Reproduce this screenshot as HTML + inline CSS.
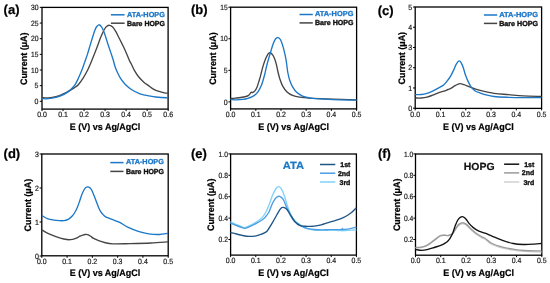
<!DOCTYPE html>
<html><head><meta charset="utf-8"><style>
html,body{margin:0;padding:0;background:#fff;width:550px;height:283px;overflow:hidden}
svg{display:block;will-change:transform;filter:blur(0.3px)}
text{font-family:"Liberation Sans",sans-serif;text-rendering:geometricPrecision}
</style></head><body>
<svg width="550" height="283" viewBox="0 0 550 283">
<rect width="550" height="283" fill="#fff"/>
<rect x="42.00" y="7.40" width="126.10" height="101.70" fill="none" stroke="#000" stroke-width="1.3"/>
<line x1="39.80" y1="101.30" x2="42.00" y2="101.30" stroke="#000" stroke-width="1"/>
<text x="38.50" y="104.00" font-size="7.60" text-anchor="end" font-weight="normal" fill="#151515" textLength="3.90" lengthAdjust="spacingAndGlyphs" stroke="#151515" stroke-width="0.18">0</text>
<line x1="39.80" y1="85.65" x2="42.00" y2="85.65" stroke="#000" stroke-width="1"/>
<text x="38.50" y="88.35" font-size="7.60" text-anchor="end" font-weight="normal" fill="#151515" textLength="3.90" lengthAdjust="spacingAndGlyphs" stroke="#151515" stroke-width="0.18">5</text>
<line x1="39.80" y1="70.00" x2="42.00" y2="70.00" stroke="#000" stroke-width="1"/>
<text x="38.50" y="72.70" font-size="7.60" text-anchor="end" font-weight="normal" fill="#151515" textLength="7.40" lengthAdjust="spacingAndGlyphs" stroke="#151515" stroke-width="0.18">10</text>
<line x1="39.80" y1="54.35" x2="42.00" y2="54.35" stroke="#000" stroke-width="1"/>
<text x="38.50" y="57.05" font-size="7.60" text-anchor="end" font-weight="normal" fill="#151515" textLength="7.40" lengthAdjust="spacingAndGlyphs" stroke="#151515" stroke-width="0.18">15</text>
<line x1="39.80" y1="38.70" x2="42.00" y2="38.70" stroke="#000" stroke-width="1"/>
<text x="38.50" y="41.40" font-size="7.60" text-anchor="end" font-weight="normal" fill="#151515" textLength="7.60" lengthAdjust="spacingAndGlyphs" stroke="#151515" stroke-width="0.18">20</text>
<line x1="39.80" y1="23.05" x2="42.00" y2="23.05" stroke="#000" stroke-width="1"/>
<text x="38.50" y="25.75" font-size="7.60" text-anchor="end" font-weight="normal" fill="#151515" textLength="7.60" lengthAdjust="spacingAndGlyphs" stroke="#151515" stroke-width="0.18">25</text>
<line x1="39.80" y1="7.40" x2="42.00" y2="7.40" stroke="#000" stroke-width="1"/>
<text x="38.50" y="10.10" font-size="7.60" text-anchor="end" font-weight="normal" fill="#151515" textLength="7.60" lengthAdjust="spacingAndGlyphs" stroke="#151515" stroke-width="0.18">30</text>
<line x1="42.00" y1="109.10" x2="42.00" y2="111.10" stroke="#000" stroke-width="1"/>
<text x="42.00" y="117.30" font-size="7.60" text-anchor="middle" font-weight="normal" fill="#151515" textLength="9.70" lengthAdjust="spacingAndGlyphs" stroke="#151515" stroke-width="0.18">0.0</text>
<line x1="63.03" y1="109.10" x2="63.03" y2="111.10" stroke="#000" stroke-width="1"/>
<text x="63.03" y="117.30" font-size="7.60" text-anchor="middle" font-weight="normal" fill="#151515" textLength="9.70" lengthAdjust="spacingAndGlyphs" stroke="#151515" stroke-width="0.18">0.1</text>
<line x1="84.06" y1="109.10" x2="84.06" y2="111.10" stroke="#000" stroke-width="1"/>
<text x="84.06" y="117.30" font-size="7.60" text-anchor="middle" font-weight="normal" fill="#151515" textLength="9.70" lengthAdjust="spacingAndGlyphs" stroke="#151515" stroke-width="0.18">0.2</text>
<line x1="105.09" y1="109.10" x2="105.09" y2="111.10" stroke="#000" stroke-width="1"/>
<text x="105.09" y="117.30" font-size="7.60" text-anchor="middle" font-weight="normal" fill="#151515" textLength="9.70" lengthAdjust="spacingAndGlyphs" stroke="#151515" stroke-width="0.18">0.3</text>
<line x1="126.12" y1="109.10" x2="126.12" y2="111.10" stroke="#000" stroke-width="1"/>
<text x="126.12" y="117.30" font-size="7.60" text-anchor="middle" font-weight="normal" fill="#151515" textLength="9.70" lengthAdjust="spacingAndGlyphs" stroke="#151515" stroke-width="0.18">0.4</text>
<line x1="147.15" y1="109.10" x2="147.15" y2="111.10" stroke="#000" stroke-width="1"/>
<text x="147.15" y="117.30" font-size="7.60" text-anchor="middle" font-weight="normal" fill="#151515" textLength="9.70" lengthAdjust="spacingAndGlyphs" stroke="#151515" stroke-width="0.18">0.5</text>
<line x1="168.18" y1="109.10" x2="168.18" y2="111.10" stroke="#000" stroke-width="1"/>
<text x="168.18" y="117.30" font-size="7.60" text-anchor="middle" font-weight="normal" fill="#151515" textLength="9.70" lengthAdjust="spacingAndGlyphs" stroke="#151515" stroke-width="0.18">0.6</text>
<text x="0" y="0" font-size="9.4" font-weight="bold" text-anchor="middle" fill="#000" stroke="#000" stroke-width="0.22" stroke-linejoin="round" textLength="52.6" lengthAdjust="spacingAndGlyphs" transform="translate(27.40,58.75) rotate(-90)">Current (μA)</text>
<text x="105.05" y="129.60" font-size="9.40" text-anchor="middle" font-weight="bold" fill="#000" textLength="70.60" lengthAdjust="spacingAndGlyphs" stroke="#000" stroke-width="0.22" stroke-linejoin="round">E (V) vs Ag/AgCl</text>
<rect x="230.60" y="7.20" width="126.00" height="101.70" fill="none" stroke="#000" stroke-width="1.3"/>
<line x1="228.40" y1="101.90" x2="230.60" y2="101.90" stroke="#000" stroke-width="1"/>
<text x="227.60" y="104.60" font-size="7.60" text-anchor="end" font-weight="normal" fill="#151515" textLength="3.90" lengthAdjust="spacingAndGlyphs" stroke="#151515" stroke-width="0.18">0</text>
<line x1="228.40" y1="70.33" x2="230.60" y2="70.33" stroke="#000" stroke-width="1"/>
<text x="227.60" y="73.03" font-size="7.60" text-anchor="end" font-weight="normal" fill="#151515" textLength="3.90" lengthAdjust="spacingAndGlyphs" stroke="#151515" stroke-width="0.18">5</text>
<line x1="228.40" y1="38.76" x2="230.60" y2="38.76" stroke="#000" stroke-width="1"/>
<text x="227.60" y="41.46" font-size="7.60" text-anchor="end" font-weight="normal" fill="#151515" textLength="7.40" lengthAdjust="spacingAndGlyphs" stroke="#151515" stroke-width="0.18">10</text>
<line x1="228.40" y1="7.19" x2="230.60" y2="7.19" stroke="#000" stroke-width="1"/>
<text x="227.60" y="9.89" font-size="7.60" text-anchor="end" font-weight="normal" fill="#151515" textLength="7.40" lengthAdjust="spacingAndGlyphs" stroke="#151515" stroke-width="0.18">15</text>
<line x1="230.60" y1="108.90" x2="230.60" y2="110.90" stroke="#000" stroke-width="1"/>
<text x="230.60" y="117.10" font-size="7.60" text-anchor="middle" font-weight="normal" fill="#151515" textLength="9.70" lengthAdjust="spacingAndGlyphs" stroke="#151515" stroke-width="0.18">0.0</text>
<line x1="255.80" y1="108.90" x2="255.80" y2="110.90" stroke="#000" stroke-width="1"/>
<text x="255.80" y="117.10" font-size="7.60" text-anchor="middle" font-weight="normal" fill="#151515" textLength="9.70" lengthAdjust="spacingAndGlyphs" stroke="#151515" stroke-width="0.18">0.1</text>
<line x1="281.00" y1="108.90" x2="281.00" y2="110.90" stroke="#000" stroke-width="1"/>
<text x="281.00" y="117.10" font-size="7.60" text-anchor="middle" font-weight="normal" fill="#151515" textLength="9.70" lengthAdjust="spacingAndGlyphs" stroke="#151515" stroke-width="0.18">0.2</text>
<line x1="306.20" y1="108.90" x2="306.20" y2="110.90" stroke="#000" stroke-width="1"/>
<text x="306.20" y="117.10" font-size="7.60" text-anchor="middle" font-weight="normal" fill="#151515" textLength="9.70" lengthAdjust="spacingAndGlyphs" stroke="#151515" stroke-width="0.18">0.3</text>
<line x1="331.40" y1="108.90" x2="331.40" y2="110.90" stroke="#000" stroke-width="1"/>
<text x="331.40" y="117.10" font-size="7.60" text-anchor="middle" font-weight="normal" fill="#151515" textLength="9.70" lengthAdjust="spacingAndGlyphs" stroke="#151515" stroke-width="0.18">0.4</text>
<line x1="356.60" y1="108.90" x2="356.60" y2="110.90" stroke="#000" stroke-width="1"/>
<text x="356.60" y="117.10" font-size="7.60" text-anchor="middle" font-weight="normal" fill="#151515" textLength="9.70" lengthAdjust="spacingAndGlyphs" stroke="#151515" stroke-width="0.18">0.5</text>
<text x="0" y="0" font-size="9.4" font-weight="bold" text-anchor="middle" fill="#000" stroke="#000" stroke-width="0.22" stroke-linejoin="round" textLength="52.6" lengthAdjust="spacingAndGlyphs" transform="translate(216.30,58.55) rotate(-90)">Current (μA)</text>
<text x="293.60" y="129.60" font-size="9.40" text-anchor="middle" font-weight="bold" fill="#000" textLength="70.60" lengthAdjust="spacingAndGlyphs" stroke="#000" stroke-width="0.22" stroke-linejoin="round">E (V) vs Ag/AgCl</text>
<rect x="415.20" y="7.00" width="126.40" height="101.40" fill="none" stroke="#000" stroke-width="1.3"/>
<line x1="413.00" y1="108.20" x2="415.20" y2="108.20" stroke="#000" stroke-width="1"/>
<text x="412.20" y="110.90" font-size="7.60" text-anchor="end" font-weight="normal" fill="#151515" textLength="3.90" lengthAdjust="spacingAndGlyphs" stroke="#151515" stroke-width="0.18">0</text>
<line x1="413.00" y1="87.96" x2="415.20" y2="87.96" stroke="#000" stroke-width="1"/>
<text x="412.20" y="90.66" font-size="7.60" text-anchor="end" font-weight="normal" fill="#151515" textLength="3.90" lengthAdjust="spacingAndGlyphs" stroke="#151515" stroke-width="0.18">1</text>
<line x1="413.00" y1="67.72" x2="415.20" y2="67.72" stroke="#000" stroke-width="1"/>
<text x="412.20" y="70.42" font-size="7.60" text-anchor="end" font-weight="normal" fill="#151515" textLength="3.90" lengthAdjust="spacingAndGlyphs" stroke="#151515" stroke-width="0.18">2</text>
<line x1="413.00" y1="47.48" x2="415.20" y2="47.48" stroke="#000" stroke-width="1"/>
<text x="412.20" y="50.18" font-size="7.60" text-anchor="end" font-weight="normal" fill="#151515" textLength="3.90" lengthAdjust="spacingAndGlyphs" stroke="#151515" stroke-width="0.18">3</text>
<line x1="413.00" y1="27.24" x2="415.20" y2="27.24" stroke="#000" stroke-width="1"/>
<text x="412.20" y="29.94" font-size="7.60" text-anchor="end" font-weight="normal" fill="#151515" textLength="3.90" lengthAdjust="spacingAndGlyphs" stroke="#151515" stroke-width="0.18">4</text>
<line x1="413.00" y1="7.00" x2="415.20" y2="7.00" stroke="#000" stroke-width="1"/>
<text x="412.20" y="9.70" font-size="7.60" text-anchor="end" font-weight="normal" fill="#151515" textLength="3.90" lengthAdjust="spacingAndGlyphs" stroke="#151515" stroke-width="0.18">5</text>
<line x1="415.20" y1="108.40" x2="415.20" y2="110.40" stroke="#000" stroke-width="1"/>
<text x="415.20" y="116.60" font-size="7.60" text-anchor="middle" font-weight="normal" fill="#151515" textLength="9.70" lengthAdjust="spacingAndGlyphs" stroke="#151515" stroke-width="0.18">0.0</text>
<line x1="440.48" y1="108.40" x2="440.48" y2="110.40" stroke="#000" stroke-width="1"/>
<text x="440.48" y="116.60" font-size="7.60" text-anchor="middle" font-weight="normal" fill="#151515" textLength="9.70" lengthAdjust="spacingAndGlyphs" stroke="#151515" stroke-width="0.18">0.1</text>
<line x1="465.76" y1="108.40" x2="465.76" y2="110.40" stroke="#000" stroke-width="1"/>
<text x="465.76" y="116.60" font-size="7.60" text-anchor="middle" font-weight="normal" fill="#151515" textLength="9.70" lengthAdjust="spacingAndGlyphs" stroke="#151515" stroke-width="0.18">0.2</text>
<line x1="491.04" y1="108.40" x2="491.04" y2="110.40" stroke="#000" stroke-width="1"/>
<text x="491.04" y="116.60" font-size="7.60" text-anchor="middle" font-weight="normal" fill="#151515" textLength="9.70" lengthAdjust="spacingAndGlyphs" stroke="#151515" stroke-width="0.18">0.3</text>
<line x1="516.32" y1="108.40" x2="516.32" y2="110.40" stroke="#000" stroke-width="1"/>
<text x="516.32" y="116.60" font-size="7.60" text-anchor="middle" font-weight="normal" fill="#151515" textLength="9.70" lengthAdjust="spacingAndGlyphs" stroke="#151515" stroke-width="0.18">0.4</text>
<line x1="541.60" y1="108.40" x2="541.60" y2="110.40" stroke="#000" stroke-width="1"/>
<text x="541.60" y="116.60" font-size="7.60" text-anchor="middle" font-weight="normal" fill="#151515" textLength="9.70" lengthAdjust="spacingAndGlyphs" stroke="#151515" stroke-width="0.18">0.5</text>
<text x="0" y="0" font-size="9.4" font-weight="bold" text-anchor="middle" fill="#000" stroke="#000" stroke-width="0.22" stroke-linejoin="round" textLength="52.6" lengthAdjust="spacingAndGlyphs" transform="translate(404.60,58.20) rotate(-90)">Current (μA)</text>
<text x="478.40" y="129.60" font-size="9.40" text-anchor="middle" font-weight="bold" fill="#000" textLength="70.60" lengthAdjust="spacingAndGlyphs" stroke="#000" stroke-width="0.22" stroke-linejoin="round">E (V) vs Ag/AgCl</text>
<rect x="41.80" y="154.00" width="126.40" height="101.80" fill="none" stroke="#000" stroke-width="1.3"/>
<line x1="39.60" y1="256.00" x2="41.80" y2="256.00" stroke="#000" stroke-width="1"/>
<text x="38.80" y="258.70" font-size="7.60" text-anchor="end" font-weight="normal" fill="#151515" textLength="3.90" lengthAdjust="spacingAndGlyphs" stroke="#151515" stroke-width="0.18">0</text>
<line x1="39.60" y1="222.00" x2="41.80" y2="222.00" stroke="#000" stroke-width="1"/>
<text x="38.80" y="224.70" font-size="7.60" text-anchor="end" font-weight="normal" fill="#151515" textLength="3.90" lengthAdjust="spacingAndGlyphs" stroke="#151515" stroke-width="0.18">1</text>
<line x1="39.60" y1="188.00" x2="41.80" y2="188.00" stroke="#000" stroke-width="1"/>
<text x="38.80" y="190.70" font-size="7.60" text-anchor="end" font-weight="normal" fill="#151515" textLength="3.90" lengthAdjust="spacingAndGlyphs" stroke="#151515" stroke-width="0.18">2</text>
<line x1="39.60" y1="154.00" x2="41.80" y2="154.00" stroke="#000" stroke-width="1"/>
<text x="38.80" y="156.70" font-size="7.60" text-anchor="end" font-weight="normal" fill="#151515" textLength="3.90" lengthAdjust="spacingAndGlyphs" stroke="#151515" stroke-width="0.18">3</text>
<line x1="41.80" y1="255.80" x2="41.80" y2="257.80" stroke="#000" stroke-width="1"/>
<text x="41.80" y="264.00" font-size="7.60" text-anchor="middle" font-weight="normal" fill="#151515" textLength="9.70" lengthAdjust="spacingAndGlyphs" stroke="#151515" stroke-width="0.18">0.0</text>
<line x1="67.08" y1="255.80" x2="67.08" y2="257.80" stroke="#000" stroke-width="1"/>
<text x="67.08" y="264.00" font-size="7.60" text-anchor="middle" font-weight="normal" fill="#151515" textLength="9.70" lengthAdjust="spacingAndGlyphs" stroke="#151515" stroke-width="0.18">0.1</text>
<line x1="92.36" y1="255.80" x2="92.36" y2="257.80" stroke="#000" stroke-width="1"/>
<text x="92.36" y="264.00" font-size="7.60" text-anchor="middle" font-weight="normal" fill="#151515" textLength="9.70" lengthAdjust="spacingAndGlyphs" stroke="#151515" stroke-width="0.18">0.2</text>
<line x1="117.64" y1="255.80" x2="117.64" y2="257.80" stroke="#000" stroke-width="1"/>
<text x="117.64" y="264.00" font-size="7.60" text-anchor="middle" font-weight="normal" fill="#151515" textLength="9.70" lengthAdjust="spacingAndGlyphs" stroke="#151515" stroke-width="0.18">0.3</text>
<line x1="142.92" y1="255.80" x2="142.92" y2="257.80" stroke="#000" stroke-width="1"/>
<text x="142.92" y="264.00" font-size="7.60" text-anchor="middle" font-weight="normal" fill="#151515" textLength="9.70" lengthAdjust="spacingAndGlyphs" stroke="#151515" stroke-width="0.18">0.4</text>
<line x1="168.20" y1="255.80" x2="168.20" y2="257.80" stroke="#000" stroke-width="1"/>
<text x="168.20" y="264.00" font-size="7.60" text-anchor="middle" font-weight="normal" fill="#151515" textLength="9.70" lengthAdjust="spacingAndGlyphs" stroke="#151515" stroke-width="0.18">0.5</text>
<text x="0" y="0" font-size="9.4" font-weight="bold" text-anchor="middle" fill="#000" stroke="#000" stroke-width="0.22" stroke-linejoin="round" textLength="52.6" lengthAdjust="spacingAndGlyphs" transform="translate(31.20,205.10) rotate(-90)">Current (μA)</text>
<text x="105.00" y="276.20" font-size="9.40" text-anchor="middle" font-weight="bold" fill="#000" textLength="70.60" lengthAdjust="spacingAndGlyphs" stroke="#000" stroke-width="0.22" stroke-linejoin="round">E (V) vs Ag/AgCl</text>
<rect x="230.60" y="154.00" width="125.80" height="101.10" fill="none" stroke="#000" stroke-width="1.3"/>
<line x1="228.40" y1="239.50" x2="230.60" y2="239.50" stroke="#000" stroke-width="1"/>
<text x="227.90" y="242.20" font-size="7.60" text-anchor="end" font-weight="normal" fill="#151515" textLength="9.40" lengthAdjust="spacingAndGlyphs" stroke="#151515" stroke-width="0.18">0.2</text>
<line x1="228.40" y1="218.10" x2="230.60" y2="218.10" stroke="#000" stroke-width="1"/>
<text x="227.90" y="220.80" font-size="7.60" text-anchor="end" font-weight="normal" fill="#151515" textLength="9.40" lengthAdjust="spacingAndGlyphs" stroke="#151515" stroke-width="0.18">0.4</text>
<line x1="228.40" y1="196.70" x2="230.60" y2="196.70" stroke="#000" stroke-width="1"/>
<text x="227.90" y="199.40" font-size="7.60" text-anchor="end" font-weight="normal" fill="#151515" textLength="9.40" lengthAdjust="spacingAndGlyphs" stroke="#151515" stroke-width="0.18">0.6</text>
<line x1="228.40" y1="175.30" x2="230.60" y2="175.30" stroke="#000" stroke-width="1"/>
<text x="227.90" y="178.00" font-size="7.60" text-anchor="end" font-weight="normal" fill="#151515" textLength="9.40" lengthAdjust="spacingAndGlyphs" stroke="#151515" stroke-width="0.18">0.8</text>
<line x1="228.40" y1="153.90" x2="230.60" y2="153.90" stroke="#000" stroke-width="1"/>
<text x="227.90" y="156.60" font-size="7.60" text-anchor="end" font-weight="normal" fill="#151515" textLength="9.30" lengthAdjust="spacingAndGlyphs" stroke="#151515" stroke-width="0.18">1.0</text>
<line x1="230.60" y1="255.10" x2="230.60" y2="257.10" stroke="#000" stroke-width="1"/>
<text x="230.60" y="263.30" font-size="7.60" text-anchor="middle" font-weight="normal" fill="#151515" textLength="9.70" lengthAdjust="spacingAndGlyphs" stroke="#151515" stroke-width="0.18">0.0</text>
<line x1="255.76" y1="255.10" x2="255.76" y2="257.10" stroke="#000" stroke-width="1"/>
<text x="255.76" y="263.30" font-size="7.60" text-anchor="middle" font-weight="normal" fill="#151515" textLength="9.70" lengthAdjust="spacingAndGlyphs" stroke="#151515" stroke-width="0.18">0.1</text>
<line x1="280.92" y1="255.10" x2="280.92" y2="257.10" stroke="#000" stroke-width="1"/>
<text x="280.92" y="263.30" font-size="7.60" text-anchor="middle" font-weight="normal" fill="#151515" textLength="9.70" lengthAdjust="spacingAndGlyphs" stroke="#151515" stroke-width="0.18">0.2</text>
<line x1="306.08" y1="255.10" x2="306.08" y2="257.10" stroke="#000" stroke-width="1"/>
<text x="306.08" y="263.30" font-size="7.60" text-anchor="middle" font-weight="normal" fill="#151515" textLength="9.70" lengthAdjust="spacingAndGlyphs" stroke="#151515" stroke-width="0.18">0.3</text>
<line x1="331.24" y1="255.10" x2="331.24" y2="257.10" stroke="#000" stroke-width="1"/>
<text x="331.24" y="263.30" font-size="7.60" text-anchor="middle" font-weight="normal" fill="#151515" textLength="9.70" lengthAdjust="spacingAndGlyphs" stroke="#151515" stroke-width="0.18">0.4</text>
<line x1="356.40" y1="255.10" x2="356.40" y2="257.10" stroke="#000" stroke-width="1"/>
<text x="356.40" y="263.30" font-size="7.60" text-anchor="middle" font-weight="normal" fill="#151515" textLength="9.70" lengthAdjust="spacingAndGlyphs" stroke="#151515" stroke-width="0.18">0.5</text>
<text x="0" y="0" font-size="9.4" font-weight="bold" text-anchor="middle" fill="#000" stroke="#000" stroke-width="0.22" stroke-linejoin="round" textLength="52.6" lengthAdjust="spacingAndGlyphs" transform="translate(214.40,204.75) rotate(-90)">Current (μA)</text>
<text x="293.50" y="276.20" font-size="9.40" text-anchor="middle" font-weight="bold" fill="#000" textLength="70.60" lengthAdjust="spacingAndGlyphs" stroke="#000" stroke-width="0.22" stroke-linejoin="round">E (V) vs Ag/AgCl</text>
<rect x="415.50" y="154.00" width="126.30" height="101.20" fill="none" stroke="#000" stroke-width="1.3"/>
<line x1="413.30" y1="239.50" x2="415.50" y2="239.50" stroke="#000" stroke-width="1"/>
<text x="413.30" y="242.20" font-size="7.60" text-anchor="end" font-weight="normal" fill="#151515" textLength="9.40" lengthAdjust="spacingAndGlyphs" stroke="#151515" stroke-width="0.18">0.2</text>
<line x1="413.30" y1="218.10" x2="415.50" y2="218.10" stroke="#000" stroke-width="1"/>
<text x="413.30" y="220.80" font-size="7.60" text-anchor="end" font-weight="normal" fill="#151515" textLength="9.40" lengthAdjust="spacingAndGlyphs" stroke="#151515" stroke-width="0.18">0.4</text>
<line x1="413.30" y1="196.70" x2="415.50" y2="196.70" stroke="#000" stroke-width="1"/>
<text x="413.30" y="199.40" font-size="7.60" text-anchor="end" font-weight="normal" fill="#151515" textLength="9.40" lengthAdjust="spacingAndGlyphs" stroke="#151515" stroke-width="0.18">0.6</text>
<line x1="413.30" y1="175.30" x2="415.50" y2="175.30" stroke="#000" stroke-width="1"/>
<text x="413.30" y="178.00" font-size="7.60" text-anchor="end" font-weight="normal" fill="#151515" textLength="9.40" lengthAdjust="spacingAndGlyphs" stroke="#151515" stroke-width="0.18">0.8</text>
<line x1="413.30" y1="153.90" x2="415.50" y2="153.90" stroke="#000" stroke-width="1"/>
<text x="413.30" y="156.60" font-size="7.60" text-anchor="end" font-weight="normal" fill="#151515" textLength="9.30" lengthAdjust="spacingAndGlyphs" stroke="#151515" stroke-width="0.18">1.0</text>
<line x1="415.50" y1="255.20" x2="415.50" y2="257.20" stroke="#000" stroke-width="1"/>
<text x="415.50" y="263.40" font-size="7.60" text-anchor="middle" font-weight="normal" fill="#151515" textLength="9.70" lengthAdjust="spacingAndGlyphs" stroke="#151515" stroke-width="0.18">0.0</text>
<line x1="440.76" y1="255.20" x2="440.76" y2="257.20" stroke="#000" stroke-width="1"/>
<text x="440.76" y="263.40" font-size="7.60" text-anchor="middle" font-weight="normal" fill="#151515" textLength="9.70" lengthAdjust="spacingAndGlyphs" stroke="#151515" stroke-width="0.18">0.1</text>
<line x1="466.02" y1="255.20" x2="466.02" y2="257.20" stroke="#000" stroke-width="1"/>
<text x="466.02" y="263.40" font-size="7.60" text-anchor="middle" font-weight="normal" fill="#151515" textLength="9.70" lengthAdjust="spacingAndGlyphs" stroke="#151515" stroke-width="0.18">0.2</text>
<line x1="491.28" y1="255.20" x2="491.28" y2="257.20" stroke="#000" stroke-width="1"/>
<text x="491.28" y="263.40" font-size="7.60" text-anchor="middle" font-weight="normal" fill="#151515" textLength="9.70" lengthAdjust="spacingAndGlyphs" stroke="#151515" stroke-width="0.18">0.3</text>
<line x1="516.54" y1="255.20" x2="516.54" y2="257.20" stroke="#000" stroke-width="1"/>
<text x="516.54" y="263.40" font-size="7.60" text-anchor="middle" font-weight="normal" fill="#151515" textLength="9.70" lengthAdjust="spacingAndGlyphs" stroke="#151515" stroke-width="0.18">0.4</text>
<line x1="541.80" y1="255.20" x2="541.80" y2="257.20" stroke="#000" stroke-width="1"/>
<text x="541.80" y="263.40" font-size="7.60" text-anchor="middle" font-weight="normal" fill="#151515" textLength="9.70" lengthAdjust="spacingAndGlyphs" stroke="#151515" stroke-width="0.18">0.5</text>
<text x="0" y="0" font-size="9.4" font-weight="bold" text-anchor="middle" fill="#000" stroke="#000" stroke-width="0.22" stroke-linejoin="round" textLength="52.6" lengthAdjust="spacingAndGlyphs" transform="translate(399.60,204.80) rotate(-90)">Current (μA)</text>
<text x="478.65" y="276.20" font-size="9.40" text-anchor="middle" font-weight="bold" fill="#000" textLength="70.60" lengthAdjust="spacingAndGlyphs" stroke="#000" stroke-width="0.22" stroke-linejoin="round">E (V) vs Ag/AgCl</text>
<text x="3.60" y="14.30" font-size="13.00" text-anchor="start" font-weight="bold" fill="#000" stroke="#000" stroke-width="0.22" stroke-linejoin="round">(a)</text>
<text x="190.90" y="14.20" font-size="13.00" text-anchor="start" font-weight="bold" fill="#000" stroke="#000" stroke-width="0.22" stroke-linejoin="round">(b)</text>
<text x="377.70" y="14.50" font-size="13.00" text-anchor="start" font-weight="bold" fill="#000" stroke="#000" stroke-width="0.22" stroke-linejoin="round">(c)</text>
<text x="3.60" y="157.80" font-size="13.00" text-anchor="start" font-weight="bold" fill="#000" stroke="#000" stroke-width="0.22" stroke-linejoin="round">(d)</text>
<text x="190.90" y="158.30" font-size="13.00" text-anchor="start" font-weight="bold" fill="#000" stroke="#000" stroke-width="0.22" stroke-linejoin="round">(e)</text>
<text x="377.90" y="157.60" font-size="13.00" text-anchor="start" font-weight="bold" fill="#000" stroke="#000" stroke-width="0.22" stroke-linejoin="round">(f)</text>
<line x1="110.90" y1="14.80" x2="124.60" y2="14.80" stroke="#1b77c8" stroke-width="1.5"/>
<line x1="110.90" y1="23.20" x2="124.60" y2="23.20" stroke="#454545" stroke-width="1.5"/>
<text x="127.00" y="16.60" font-size="7.20" text-anchor="start" font-weight="bold" fill="#1b77c8" textLength="37.90" lengthAdjust="spacingAndGlyphs" stroke="#1b77c8" stroke-width="0.30" stroke-linejoin="round">ATA-HOPG</text>
<text x="127.00" y="25.55" font-size="7.20" text-anchor="start" font-weight="bold" fill="#111" textLength="37.90" lengthAdjust="spacingAndGlyphs" stroke="#111" stroke-width="0.38" stroke-linejoin="round">Bare HOPG</text>
<line x1="299.50" y1="14.50" x2="312.80" y2="14.50" stroke="#1b77c8" stroke-width="1.5"/>
<line x1="299.50" y1="22.90" x2="312.80" y2="22.90" stroke="#454545" stroke-width="1.5"/>
<text x="315.00" y="16.30" font-size="7.20" text-anchor="start" font-weight="bold" fill="#1b77c8" textLength="38.40" lengthAdjust="spacingAndGlyphs" stroke="#1b77c8" stroke-width="0.30" stroke-linejoin="round">ATA-HOPG</text>
<text x="315.00" y="25.25" font-size="7.20" text-anchor="start" font-weight="bold" fill="#111" textLength="38.40" lengthAdjust="spacingAndGlyphs" stroke="#111" stroke-width="0.38" stroke-linejoin="round">Bare HOPG</text>
<line x1="483.90" y1="15.00" x2="497.20" y2="15.00" stroke="#1b77c8" stroke-width="1.5"/>
<line x1="483.90" y1="23.40" x2="497.20" y2="23.40" stroke="#454545" stroke-width="1.5"/>
<text x="499.20" y="16.80" font-size="7.20" text-anchor="start" font-weight="bold" fill="#1b77c8" textLength="38.80" lengthAdjust="spacingAndGlyphs" stroke="#1b77c8" stroke-width="0.30" stroke-linejoin="round">ATA-HOPG</text>
<text x="499.20" y="25.75" font-size="7.20" text-anchor="start" font-weight="bold" fill="#111" textLength="38.80" lengthAdjust="spacingAndGlyphs" stroke="#111" stroke-width="0.38" stroke-linejoin="round">Bare HOPG</text>
<line x1="110.30" y1="162.60" x2="123.50" y2="162.60" stroke="#1b77c8" stroke-width="1.5"/>
<line x1="110.30" y1="171.40" x2="123.50" y2="171.40" stroke="#454545" stroke-width="1.5"/>
<text x="126.00" y="164.40" font-size="7.20" text-anchor="start" font-weight="bold" fill="#1b77c8" textLength="37.90" lengthAdjust="spacingAndGlyphs" stroke="#1b77c8" stroke-width="0.30" stroke-linejoin="round">ATA-HOPG</text>
<text x="126.00" y="173.75" font-size="7.20" text-anchor="start" font-weight="bold" fill="#111" textLength="37.90" lengthAdjust="spacingAndGlyphs" stroke="#111" stroke-width="0.38" stroke-linejoin="round">Bare HOPG</text>
<line x1="320.00" y1="164.50" x2="335.30" y2="164.50" stroke="#1e5687" stroke-width="1.5"/>
<text x="350.40" y="167.00" font-size="7.00" text-anchor="end" font-weight="bold" fill="#111" stroke="#111" stroke-width="0.35" stroke-linejoin="round">1st</text>
<line x1="320.00" y1="173.20" x2="335.30" y2="173.20" stroke="#4a9de2" stroke-width="1.5"/>
<text x="350.40" y="175.70" font-size="7.00" text-anchor="end" font-weight="bold" fill="#111" stroke="#111" stroke-width="0.35" stroke-linejoin="round">2nd</text>
<line x1="320.00" y1="182.00" x2="335.30" y2="182.00" stroke="#82d2f6" stroke-width="1.5"/>
<text x="350.40" y="184.50" font-size="7.00" text-anchor="end" font-weight="bold" fill="#111" stroke="#111" stroke-width="0.35" stroke-linejoin="round">3rd</text>
<line x1="504.10" y1="164.20" x2="519.20" y2="164.20" stroke="#111111" stroke-width="1.5"/>
<text x="534.30" y="166.70" font-size="7.00" text-anchor="end" font-weight="bold" fill="#111" stroke="#111" stroke-width="0.35" stroke-linejoin="round">1st</text>
<line x1="504.10" y1="172.90" x2="519.20" y2="172.90" stroke="#9a9a9a" stroke-width="1.5"/>
<text x="534.30" y="175.40" font-size="7.00" text-anchor="end" font-weight="bold" fill="#111" stroke="#111" stroke-width="0.35" stroke-linejoin="round">2nd</text>
<line x1="504.10" y1="182.00" x2="519.20" y2="182.00" stroke="#d0d0d0" stroke-width="1.5"/>
<text x="534.30" y="184.50" font-size="7.00" text-anchor="end" font-weight="bold" fill="#111" stroke="#111" stroke-width="0.35" stroke-linejoin="round">3rd</text>
<text x="282.70" y="169.20" font-size="10.40" text-anchor="start" font-weight="bold" fill="#1b77c8" textLength="21.30" lengthAdjust="spacingAndGlyphs" stroke="#1b77c8" stroke-width="0.22" stroke-linejoin="round">ATA</text>
<text x="463.80" y="169.50" font-size="10.40" text-anchor="start" font-weight="bold" fill="#111" textLength="30.80" lengthAdjust="spacingAndGlyphs" stroke="#111" stroke-width="0.22" stroke-linejoin="round">HOPG</text>
<path d="M42.40,97.60 C43.07,97.65 45.03,97.90 46.40,97.90 C47.77,97.90 49.02,97.82 50.60,97.60 C52.18,97.38 54.13,97.05 55.90,96.60 C57.67,96.15 59.43,95.60 61.20,94.90 C62.97,94.20 64.95,93.18 66.50,92.40 C68.05,91.62 69.17,91.00 70.50,90.20 C71.83,89.40 73.20,88.52 74.50,87.60 C75.80,86.68 76.78,86.42 78.30,84.70 C79.82,82.98 82.02,79.78 83.60,77.30 C85.18,74.82 86.57,72.28 87.80,69.80 C89.03,67.32 89.90,65.03 91.00,62.40 C92.10,59.77 93.28,56.82 94.40,54.00 C95.52,51.18 96.73,48.08 97.70,45.50 C98.67,42.92 99.38,40.58 100.20,38.50 C101.02,36.42 101.87,34.58 102.60,33.00 C103.33,31.42 103.93,30.08 104.60,29.00 C105.27,27.92 105.78,27.12 106.60,26.50 C107.42,25.88 108.48,25.23 109.50,25.30 C110.52,25.37 111.63,25.83 112.70,26.90 C113.77,27.97 114.83,29.85 115.90,31.70 C116.97,33.55 118.03,35.88 119.10,38.00 C120.17,40.12 121.33,42.45 122.30,44.40 C123.27,46.35 123.75,47.10 124.90,49.70 C126.05,52.30 128.12,57.58 129.20,60.00 C130.28,62.42 130.52,62.43 131.40,64.20 C132.28,65.97 133.27,68.47 134.50,70.60 C135.73,72.73 137.20,75.03 138.80,77.00 C140.40,78.97 142.48,80.97 144.10,82.40 C145.72,83.83 146.88,84.45 148.50,85.60 C150.12,86.75 152.03,88.33 153.80,89.30 C155.57,90.27 157.33,90.82 159.10,91.40 C160.87,91.98 162.98,92.50 164.40,92.80 C165.82,93.10 167.07,93.13 167.60,93.20" fill="none" stroke="#454545" stroke-width="1.35" stroke-linejoin="round" stroke-linecap="round"/>
<path d="M42.40,98.60 C43.07,98.63 45.03,98.83 46.40,98.80 C47.77,98.77 49.02,98.63 50.60,98.40 C52.18,98.17 54.13,97.87 55.90,97.40 C57.67,96.93 59.43,96.35 61.20,95.60 C62.97,94.85 64.95,93.87 66.50,92.90 C68.05,91.93 69.07,91.17 70.50,89.80 C71.93,88.43 73.72,86.78 75.10,84.70 C76.48,82.62 77.65,79.78 78.80,77.30 C79.95,74.82 81.03,72.28 82.00,69.80 C82.97,67.32 83.68,65.02 84.60,62.40 C85.52,59.78 86.55,57.07 87.50,54.10 C88.45,51.13 89.42,47.53 90.30,44.60 C91.18,41.67 92.08,38.77 92.80,36.50 C93.52,34.23 94.00,32.58 94.60,31.00 C95.20,29.42 95.70,28.03 96.40,27.00 C97.10,25.97 97.97,24.85 98.80,24.80 C99.63,24.75 100.57,25.58 101.40,26.70 C102.23,27.82 103.05,29.65 103.80,31.50 C104.55,33.35 105.17,35.55 105.90,37.80 C106.63,40.05 107.50,42.88 108.20,45.00 C108.90,47.12 109.53,48.83 110.10,50.50 C110.67,52.17 111.07,53.37 111.60,55.00 C112.13,56.63 112.72,58.35 113.30,60.30 C113.88,62.25 114.37,64.58 115.10,66.70 C115.83,68.82 116.73,70.97 117.70,73.00 C118.67,75.03 119.67,77.03 120.90,78.90 C122.13,80.77 123.35,82.43 125.10,84.20 C126.85,85.97 128.92,87.88 131.40,89.50 C133.88,91.12 137.68,92.97 140.00,93.90 C142.32,94.83 143.53,94.72 145.30,95.10 C147.07,95.48 148.83,95.88 150.60,96.20 C152.37,96.52 154.13,96.78 155.90,97.00 C157.67,97.22 159.25,97.37 161.20,97.50 C163.15,97.63 166.53,97.75 167.60,97.80" fill="none" stroke="#1b77c8" stroke-width="1.35" stroke-linejoin="round" stroke-linecap="round"/>
<path d="M231.10,98.50 C231.80,98.43 233.72,98.27 235.30,98.10 C236.88,97.93 238.83,97.77 240.60,97.50 C242.37,97.23 244.57,96.85 245.90,96.50 C247.23,96.15 247.90,95.88 248.60,95.40 C249.30,94.92 249.67,94.12 250.10,93.60 C250.53,93.08 250.75,92.48 251.20,92.30 C251.65,92.12 252.18,92.73 252.80,92.50 C253.42,92.27 254.20,91.78 254.90,90.90 C255.60,90.02 256.38,88.62 257.00,87.20 C257.62,85.78 258.07,84.08 258.60,82.40 C259.13,80.72 259.72,78.83 260.20,77.10 C260.68,75.37 261.05,73.75 261.50,72.00 C261.95,70.25 262.27,68.70 262.90,66.60 C263.53,64.50 264.50,61.40 265.30,59.40 C266.10,57.40 266.98,55.72 267.70,54.60 C268.42,53.48 268.80,52.70 269.60,52.70 C270.40,52.70 271.62,53.48 272.50,54.60 C273.38,55.72 274.23,57.67 274.90,59.40 C275.57,61.13 275.98,62.90 276.50,65.00 C277.02,67.10 277.43,69.65 278.00,72.00 C278.57,74.35 279.12,76.73 279.90,79.10 C280.68,81.47 281.52,84.07 282.70,86.20 C283.88,88.33 285.35,90.37 287.00,91.90 C288.65,93.43 290.48,94.52 292.60,95.40 C294.72,96.28 296.87,96.73 299.70,97.20 C302.53,97.67 304.05,97.87 309.60,98.20 C315.15,98.53 325.27,98.93 333.00,99.20 C340.73,99.47 352.17,99.70 356.00,99.80" fill="none" stroke="#454545" stroke-width="1.35" stroke-linejoin="round" stroke-linecap="round"/>
<path d="M231.00,99.60 C231.90,99.65 234.45,99.93 236.40,99.90 C238.35,99.87 240.77,99.67 242.70,99.40 C244.63,99.13 246.40,98.75 248.00,98.30 C249.60,97.85 251.05,97.32 252.30,96.70 C253.55,96.08 254.45,95.57 255.50,94.60 C256.55,93.63 257.63,92.40 258.60,90.90 C259.57,89.40 260.50,87.55 261.30,85.60 C262.10,83.65 262.82,81.13 263.40,79.20 C263.98,77.27 264.22,76.37 264.80,74.00 C265.38,71.63 266.02,68.37 266.90,65.00 C267.78,61.63 269.03,57.38 270.10,53.80 C271.17,50.22 272.37,46.02 273.30,43.50 C274.23,40.98 274.90,39.68 275.70,38.70 C276.50,37.72 277.32,37.47 278.10,37.60 C278.88,37.73 279.62,38.12 280.40,39.50 C281.18,40.88 282.00,43.25 282.80,45.90 C283.60,48.55 284.57,52.47 285.20,55.40 C285.83,58.33 286.17,60.65 286.60,63.50 C287.03,66.35 287.27,69.67 287.80,72.50 C288.33,75.33 289.00,78.10 289.80,80.50 C290.60,82.90 291.42,84.88 292.60,86.90 C293.78,88.92 295.25,91.07 296.90,92.60 C298.55,94.13 300.38,95.22 302.50,96.10 C304.62,96.98 307.47,97.47 309.60,97.90 C311.73,98.33 311.40,98.40 315.30,98.70 C319.20,99.00 326.22,99.45 333.00,99.70 C339.78,99.95 352.17,100.12 356.00,100.20" fill="none" stroke="#1b77c8" stroke-width="1.35" stroke-linejoin="round" stroke-linecap="round"/>
<path d="M415.80,98.00 C416.72,98.00 419.43,98.15 421.30,98.00 C423.17,97.85 425.12,97.57 427.00,97.10 C428.88,96.63 430.72,95.90 432.60,95.20 C434.48,94.50 436.42,93.57 438.30,92.90 C440.18,92.23 442.28,91.77 443.90,91.20 C445.52,90.63 446.77,90.00 448.00,89.50 C449.23,89.00 450.05,88.88 451.30,88.20 C452.55,87.52 454.08,86.15 455.50,85.40 C456.92,84.65 458.38,83.82 459.80,83.70 C461.22,83.58 462.58,84.25 464.00,84.70 C465.42,85.15 466.65,85.77 468.30,86.40 C469.95,87.03 471.95,87.85 473.90,88.50 C475.85,89.15 476.63,89.50 480.00,90.30 C483.37,91.10 489.33,92.58 494.10,93.30 C498.87,94.02 503.75,94.17 508.60,94.60 C513.45,95.03 517.80,95.58 523.20,95.90 C528.60,96.22 538.03,96.40 541.00,96.50" fill="none" stroke="#454545" stroke-width="1.35" stroke-linejoin="round" stroke-linecap="round"/>
<path d="M415.80,94.70 C416.72,94.67 419.43,94.73 421.30,94.50 C423.17,94.27 425.12,93.85 427.00,93.30 C428.88,92.75 430.72,92.07 432.60,91.20 C434.48,90.33 436.42,89.17 438.30,88.10 C440.18,87.03 442.23,86.23 443.90,84.80 C445.57,83.37 447.07,81.17 448.30,79.50 C449.53,77.83 450.33,76.53 451.30,74.80 C452.27,73.07 453.27,70.87 454.10,69.10 C454.93,67.33 455.47,65.57 456.30,64.20 C457.13,62.83 458.28,61.13 459.10,60.90 C459.92,60.67 460.50,61.67 461.20,62.80 C461.90,63.93 462.60,65.70 463.30,67.70 C464.00,69.70 464.57,72.43 465.40,74.80 C466.23,77.17 467.35,79.90 468.30,81.90 C469.25,83.90 469.93,85.28 471.10,86.80 C472.27,88.32 473.82,89.98 475.30,91.00 C476.78,92.02 478.38,92.30 480.00,92.90 C481.62,93.50 482.65,94.00 485.00,94.60 C487.35,95.20 490.17,96.05 494.10,96.50 C498.03,96.95 503.75,97.12 508.60,97.30 C513.45,97.48 517.80,97.55 523.20,97.60 C528.60,97.65 538.03,97.60 541.00,97.60" fill="none" stroke="#1b77c8" stroke-width="1.35" stroke-linejoin="round" stroke-linecap="round"/>
<path d="M42.40,230.20 C43.32,230.73 45.65,232.33 47.90,233.40 C50.15,234.47 53.25,235.67 55.90,236.60 C58.55,237.53 61.42,238.48 63.80,239.00 C66.18,239.52 68.07,239.87 70.20,239.70 C72.33,239.53 74.97,238.58 76.60,238.00 C78.23,237.42 78.62,236.78 80.00,236.20 C81.38,235.62 83.65,234.77 84.90,234.50 C86.15,234.23 86.53,234.30 87.50,234.60 C88.47,234.90 89.75,235.70 90.70,236.30 C91.65,236.90 92.05,237.55 93.20,238.20 C94.35,238.85 95.72,239.48 97.60,240.20 C99.48,240.92 101.97,241.90 104.50,242.50 C107.03,243.10 108.58,243.62 112.80,243.80 C117.02,243.98 123.43,243.73 129.80,243.60 C136.17,243.47 144.70,243.28 151.00,243.00 C157.30,242.72 164.83,242.08 167.60,241.90" fill="none" stroke="#454545" stroke-width="1.35" stroke-linejoin="round" stroke-linecap="round"/>
<path d="M42.40,215.90 C43.32,216.38 45.65,218.07 47.90,218.80 C50.15,219.53 53.25,219.98 55.90,220.30 C58.55,220.62 61.68,220.90 63.80,220.70 C65.92,220.50 67.23,219.83 68.60,219.10 C69.97,218.37 70.97,217.40 72.00,216.30 C73.03,215.20 73.90,214.02 74.80,212.50 C75.70,210.98 76.62,209.03 77.40,207.20 C78.18,205.37 78.82,203.45 79.50,201.50 C80.18,199.55 80.78,197.37 81.50,195.50 C82.22,193.63 83.08,191.62 83.80,190.30 C84.52,188.98 85.12,188.17 85.80,187.60 C86.48,187.03 87.22,186.87 87.90,186.90 C88.58,186.93 89.25,187.23 89.90,187.80 C90.55,188.37 91.12,189.02 91.80,190.30 C92.48,191.58 93.23,193.58 94.00,195.50 C94.77,197.42 95.60,199.72 96.40,201.80 C97.20,203.88 98.03,206.27 98.80,208.00 C99.57,209.73 100.22,211.03 101.00,212.20 C101.78,213.37 102.73,214.23 103.50,215.00 C104.27,215.77 104.52,216.20 105.60,216.80 C106.68,217.40 108.80,218.12 110.00,218.60 C111.20,219.08 111.27,219.10 112.80,219.70 C114.33,220.30 116.72,220.97 119.20,222.20 C121.68,223.43 124.52,225.58 127.70,227.10 C130.88,228.62 134.78,230.17 138.30,231.30 C141.82,232.43 145.28,233.37 148.80,233.90 C152.32,234.43 156.27,234.58 159.40,234.50 C162.53,234.42 166.23,233.58 167.60,233.40" fill="none" stroke="#1b77c8" stroke-width="1.35" stroke-linejoin="round" stroke-linecap="round"/>
<path d="M230.80,222.00 C231.75,222.42 234.62,223.68 236.50,224.50 C238.38,225.32 240.68,226.38 242.10,226.90 C243.52,227.42 243.82,227.77 245.00,227.60 C246.18,227.43 247.32,226.83 249.20,225.90 C251.08,224.97 254.17,223.38 256.30,222.00 C258.43,220.62 260.47,219.15 262.00,217.60 C263.53,216.05 264.32,214.85 265.50,212.70 C266.68,210.55 267.92,207.65 269.10,204.70 C270.28,201.75 271.43,197.70 272.60,195.00 C273.77,192.30 275.07,189.88 276.10,188.50 C277.13,187.12 277.92,186.65 278.80,186.70 C279.68,186.75 280.52,187.42 281.40,188.80 C282.28,190.18 283.07,192.05 284.10,195.00 C285.13,197.95 286.42,203.12 287.60,206.50 C288.78,209.88 289.87,212.80 291.20,215.30 C292.53,217.80 293.82,219.75 295.60,221.50 C297.38,223.25 299.98,224.62 301.90,225.80 C303.82,226.98 305.07,227.90 307.10,228.60 C309.13,229.30 311.62,229.70 314.10,230.00 C316.58,230.30 319.35,230.37 322.00,230.40 C324.65,230.43 327.20,230.18 330.00,230.20 C332.80,230.22 336.60,230.42 338.80,230.50 C341.00,230.58 341.72,230.72 343.20,230.70 C344.68,230.68 346.22,230.50 347.70,230.40 C349.18,230.30 350.73,230.18 352.10,230.10 C353.47,230.02 355.27,229.93 355.90,229.90" fill="none" stroke="#82d2f6" stroke-width="1.35" stroke-linejoin="round" stroke-linecap="round"/>
<path d="M230.80,223.10 C231.75,223.50 234.62,224.75 236.50,225.50 C238.38,226.25 240.68,227.13 242.10,227.60 C243.52,228.07 243.82,228.42 245.00,228.30 C246.18,228.18 247.32,227.72 249.20,226.90 C251.08,226.08 254.17,224.55 256.30,223.40 C258.43,222.25 260.47,221.08 262.00,220.00 C263.53,218.92 264.32,218.27 265.50,216.90 C266.68,215.53 267.92,214.12 269.10,211.80 C270.28,209.48 271.43,205.35 272.60,203.00 C273.77,200.65 274.92,198.82 276.10,197.70 C277.28,196.58 278.52,196.02 279.70,196.30 C280.88,196.58 282.03,197.55 283.20,199.40 C284.37,201.25 285.52,204.75 286.70,207.40 C287.88,210.05 288.97,212.95 290.30,215.30 C291.63,217.65 292.77,219.67 294.70,221.50 C296.63,223.33 299.83,225.17 301.90,226.30 C303.97,227.43 305.07,227.77 307.10,228.30 C309.13,228.83 311.62,229.25 314.10,229.50 C316.58,229.75 319.35,229.78 322.00,229.80 C324.65,229.82 327.20,229.63 330.00,229.60 C332.80,229.57 336.60,229.62 338.80,229.60 C341.00,229.58 341.72,229.58 343.20,229.50 C344.68,229.42 346.22,229.32 347.70,229.10 C349.18,228.88 350.73,228.50 352.10,228.20 C353.47,227.90 355.27,227.45 355.90,227.30" fill="none" stroke="#4a9de2" stroke-width="1.35" stroke-linejoin="round" stroke-linecap="round"/>
<path d="M230.80,232.60 C231.75,232.83 234.62,233.53 236.50,234.00 C238.38,234.47 239.98,235.00 242.10,235.40 C244.22,235.80 246.83,236.33 249.20,236.40 C251.57,236.47 254.18,236.20 256.30,235.80 C258.42,235.40 260.25,234.65 261.90,234.00 C263.55,233.35 265.15,232.65 266.20,231.90 C267.25,231.15 267.13,231.08 268.20,229.50 C269.27,227.92 271.13,224.90 272.60,222.40 C274.07,219.90 275.67,216.80 277.00,214.50 C278.33,212.20 279.57,209.78 280.60,208.60 C281.63,207.42 282.18,207.30 283.20,207.40 C284.22,207.50 285.52,208.02 286.70,209.20 C287.88,210.38 288.97,212.45 290.30,214.50 C291.63,216.55 293.08,219.65 294.70,221.50 C296.32,223.35 297.93,224.80 300.00,225.60 C302.07,226.40 304.75,226.20 307.10,226.30 C309.45,226.40 311.75,226.43 314.10,226.20 C316.45,225.97 318.83,225.50 321.20,224.90 C323.57,224.30 326.10,223.28 328.30,222.60 C330.50,221.92 332.65,221.35 334.40,220.80 C336.15,220.25 337.33,219.83 338.80,219.30 C340.27,218.77 341.72,218.28 343.20,217.60 C344.68,216.92 346.32,216.05 347.70,215.20 C349.08,214.35 350.13,213.67 351.50,212.50 C352.87,211.33 355.17,208.92 355.90,208.20" fill="none" stroke="#1e5687" stroke-width="1.35" stroke-linejoin="round" stroke-linecap="round"/>
<path d="M341.6,229.8 L342.4,227.9 L343.2,229.8" fill="none" stroke="#4a9de2" stroke-width="0.9" stroke-linejoin="round"/>
<path d="M416.00,247.80 C416.92,247.75 419.65,247.93 421.50,247.50 C423.35,247.07 424.98,246.50 427.10,245.20 C429.22,243.90 432.07,241.32 434.20,239.70 C436.33,238.08 438.25,236.28 439.90,235.50 C441.55,234.72 442.70,234.98 444.10,235.00 C445.50,235.02 446.85,235.80 448.30,235.60 C449.75,235.40 451.47,234.97 452.80,233.80 C454.13,232.63 455.25,230.05 456.30,228.60 C457.35,227.15 458.03,225.92 459.10,225.10 C460.17,224.28 461.52,223.70 462.70,223.70 C463.88,223.70 464.92,224.17 466.20,225.10 C467.48,226.03 468.75,227.77 470.40,229.30 C472.05,230.83 474.22,232.88 476.10,234.30 C477.98,235.72 480.22,236.97 481.70,237.80 C483.18,238.63 483.28,238.18 485.00,239.30 C486.72,240.42 489.07,243.03 492.00,244.50 C494.93,245.97 499.07,247.15 502.60,248.10 C506.13,249.05 509.67,249.67 513.20,250.20 C516.73,250.73 519.17,251.00 523.80,251.30 C528.43,251.60 538.13,251.88 541.00,252.00" fill="none" stroke="#d0d0d0" stroke-width="1.35" stroke-linejoin="round" stroke-linecap="round"/>
<path d="M416.00,247.50 C416.92,247.45 419.65,247.55 421.50,247.20 C423.35,246.85 424.98,246.53 427.10,245.40 C429.22,244.27 432.07,241.93 434.20,240.40 C436.33,238.87 438.25,237.05 439.90,236.20 C441.55,235.35 442.70,235.42 444.10,235.30 C445.50,235.18 446.85,235.83 448.30,235.50 C449.75,235.17 451.47,234.62 452.80,233.30 C454.13,231.98 455.25,229.13 456.30,227.60 C457.35,226.07 458.03,224.92 459.10,224.10 C460.17,223.28 461.52,222.70 462.70,222.70 C463.88,222.70 464.92,223.17 466.20,224.10 C467.48,225.03 468.75,226.77 470.40,228.30 C472.05,229.83 474.22,231.88 476.10,233.30 C477.98,234.72 480.22,235.97 481.70,236.80 C483.18,237.63 483.28,237.18 485.00,238.30 C486.72,239.42 489.07,242.03 492.00,243.50 C494.93,244.97 499.07,246.15 502.60,247.10 C506.13,248.05 509.67,248.63 513.20,249.20 C516.73,249.77 519.17,250.22 523.80,250.50 C528.43,250.78 538.13,250.83 541.00,250.90" fill="none" stroke="#9a9a9a" stroke-width="1.35" stroke-linejoin="round" stroke-linecap="round"/>
<path d="M416.00,249.60 C416.92,249.72 419.65,250.30 421.50,250.30 C423.35,250.30 424.98,250.07 427.10,249.60 C429.22,249.13 431.83,248.25 434.20,247.50 C436.57,246.75 439.50,245.82 441.30,245.10 C443.10,244.38 443.93,243.85 445.00,243.20 C446.07,242.55 446.87,242.02 447.70,241.20 C448.53,240.38 449.15,239.67 450.00,238.30 C450.85,236.93 451.87,235.25 452.80,233.00 C453.73,230.75 454.67,227.12 455.60,224.80 C456.53,222.48 457.33,220.47 458.40,219.10 C459.47,217.73 460.82,216.72 462.00,216.60 C463.18,216.48 464.33,217.27 465.50,218.40 C466.67,219.53 467.70,221.87 469.00,223.40 C470.30,224.93 471.65,226.32 473.30,227.60 C474.95,228.88 476.95,230.17 478.90,231.10 C480.85,232.03 482.82,232.37 485.00,233.20 C487.18,234.03 489.07,234.92 492.00,236.10 C494.93,237.28 499.07,239.07 502.60,240.30 C506.13,241.53 509.67,242.80 513.20,243.50 C516.73,244.20 520.27,244.40 523.80,244.50 C527.33,244.60 531.53,244.27 534.40,244.10 C537.27,243.93 539.90,243.60 541.00,243.50" fill="none" stroke="#111111" stroke-width="1.35" stroke-linejoin="round" stroke-linecap="round"/>
</svg>
</body></html>
